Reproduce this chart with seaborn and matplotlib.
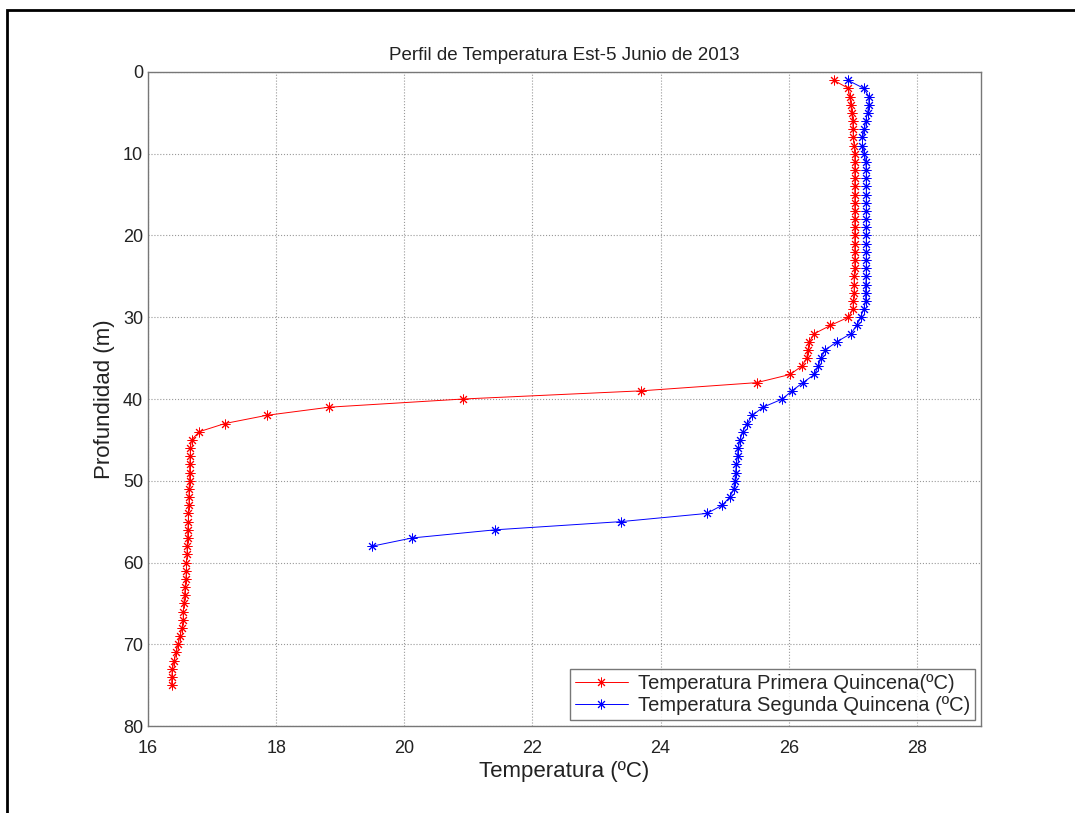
import numpy as np
import pandas as pd
import matplotlib
matplotlib.use("Agg")
import matplotlib.pyplot as plt
import seaborn as sns
from matplotlib.patches import Rectangle

# datos
prof_1 = list(range(1, 76))
temp_1 = [26.70, 26.93, 26.95, 26.97, 26.98, 27.00, 27.00, 27.01, 27.02, 27.03,
          27.03, 27.03, 27.03, 27.03, 27.03, 27.03, 27.03, 27.03, 27.03, 27.03,
          27.03, 27.03, 27.03, 27.03, 27.02, 27.02, 27.02, 27.01, 27.00, 26.93,
          26.65, 26.40, 26.32, 26.30, 26.28, 26.20, 26.02, 25.50, 23.70, 20.92,
          18.83, 17.85, 17.20, 16.80, 16.68, 16.66, 16.66, 16.65, 16.65, 16.65,
          16.64, 16.64, 16.64, 16.63, 16.63, 16.62, 16.62, 16.61, 16.61, 16.60,
          16.60, 16.59, 16.58, 16.57, 16.56, 16.55, 16.55, 16.53, 16.50, 16.47,
          16.44, 16.41, 16.38, 16.37, 16.37]

prof_2 = list(range(1, 59))
temp_2 = [26.92, 27.17, 27.25, 27.25, 27.23, 27.20, 27.18, 27.15, 27.15, 27.18,
          27.20, 27.21, 27.21, 27.21, 27.21, 27.21, 27.21, 27.21, 27.21, 27.21,
          27.21, 27.21, 27.21, 27.21, 27.21, 27.20, 27.20, 27.20, 27.17, 27.12,
          27.06, 26.97, 26.75, 26.57, 26.50, 26.46, 26.40, 26.22, 26.05, 25.90,
          25.60, 25.43, 25.35, 25.28, 25.24, 25.21, 25.20, 25.18, 25.17, 25.16,
          25.14, 25.08, 24.96, 24.72, 23.38, 21.42, 20.12, 19.50]

etiqueta_1 = "Temperatura Primera Quincena(ºC)"
etiqueta_2 = "Temperatura Segunda Quincena (ºC)"

df1 = pd.DataFrame({"temp": temp_1, "prof": prof_1})
df2 = pd.DataFrame({"temp": temp_2, "prof": prof_2})

sns.set_style("white")
plt.rcParams["font.family"] = ["Liberation Sans", "DejaVu Sans"]

fig = plt.figure(figsize=(10.75, 8.13), dpi=100)
ax = fig.add_axes([148 / 1075, 1 - 726 / 813, (981 - 148) / 1075, (726 - 72) / 813])

asterisco = (8, 2, 0)
sns.lineplot(data=df1, x="temp", y="prof", sort=False, estimator=None, color="red",
             lw=0.7, marker=asterisco, markersize=7, markeredgewidth=0.7,
             markeredgecolor="red", label=etiqueta_1, ax=ax)
sns.lineplot(data=df2, x="temp", y="prof", sort=False, estimator=None, color="blue",
             lw=0.7, marker=asterisco, markersize=7, markeredgewidth=0.7,
             markeredgecolor="blue", label=etiqueta_2, ax=ax)

ax.set_xlim(16, 29)
ax.set_ylim(80, 0)
ax.set_xticks(np.arange(16, 29, 2))
ax.set_yticks(np.arange(0, 81, 10))
ax.grid(True, linestyle=":", color="#999999", lw=0.8)
ax.tick_params(direction="in", labelsize=13, length=5, color="#555555", labelcolor="#222222")
ax.tick_params(axis="x", pad=10)
for s in ax.spines.values():
    s.set_color("#777777")
    s.set_linewidth(1.0)

ax.set_title("Perfil de Temperatura Est-5 Junio de 2013", fontsize=13.5, color="#222222", pad=9)
ax.set_xlabel("Temperatura (ºC)", fontsize=16, color="#222222", labelpad=3)
ax.set_ylabel("Profundidad (m)", fontsize=16, color="#222222", labelpad=6)

leg = ax.legend(loc="lower right", fontsize=14.5, frameon=True, fancybox=False,
                borderaxespad=0.3, handlelength=2.6, handletextpad=0.5,
                borderpad=0.25, labelspacing=0.15)
leg.get_frame().set_edgecolor("#555555")
leg.get_frame().set_linewidth(1.0)

# marco negro exterior
fig.patches.append(Rectangle((7 / 1075, -0.05), 1.2, 1 - 10 / 813 + 0.05,
                             transform=fig.transFigure, fill=False,
                             edgecolor="black", lw=2))

fig.savefig("out.png", dpi=100)
